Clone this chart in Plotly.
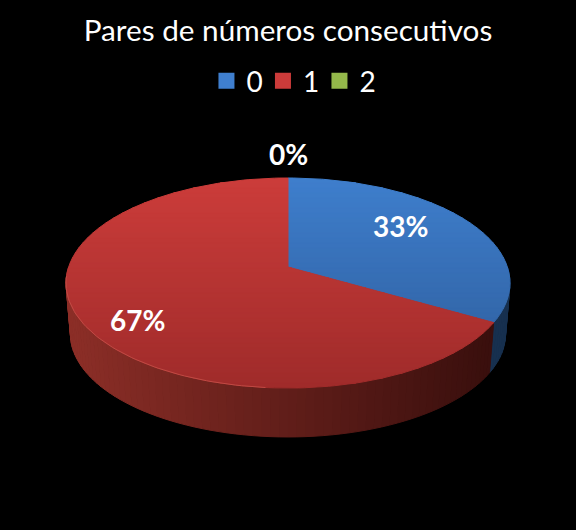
import numpy as np
import plotly.graph_objects as go

# DATA
categories = ["0", "1", "2"]
values = [1, 2, 0]
title_text = "Pares de números consecutivos"

# COLOURS (top of face, bottom of face, wall from left to right)
legend_colors = ["#3f7fcf", "#cc3b3a", "#94b84a"]
face_top = {"0": "#3e7ecc", "1": "#cb3c3a", "2": "#9bbb59"}
face_bottom = {"0": "#2d5c9a", "1": "#9f2b2a", "2": "#7a9a40"}
wall_light = {"0": "#1f4270", "1": "#8c2e27", "2": "#5f7a30"}
wall_dark = {"0": "#17304f", "1": "#3a0f0d", "2": "#3f5220"}

# PIE GEOMETRY (pixels, the axes run 1:1 with the page)
CX = 288
PERSP = 0.1524
TOP_CY, TOP_RX, TOP_RY = 267, 219.4, 102.6
BOT_CY, BOT_RX, BOT_RY = 318.4, 215.0, 100.5
N_BANDS = 42
LABEL_POS = [(400, 226), (137, 320), (288, 154)]


def project(theta, cy, rx, ry):
    u, v = np.sin(theta), np.cos(theta)
    d = 1 + PERSP * v
    return CX + rx * u / d, cy - ry * v / d


def mix(c1, c2, t):
    a = [int(c1[i:i + 2], 16) for i in (1, 3, 5)]
    b = [int(c2[i:i + 2], 16) for i in (1, 3, 5)]
    return "rgb(%d,%d,%d)" % tuple(round(p + (q - p) * t) for p, q in zip(a, b))


def clip_half(points, limit, keep_below):
    out = []
    for i in range(len(points)):
        x0, y0 = points[i]
        x1, y1 = points[(i + 1) % len(points)]
        in0 = y0 <= limit if keep_below else y0 >= limit
        in1 = y1 <= limit if keep_below else y1 >= limit
        if in0:
            out.append((x0, y0))
        if in0 != in1:
            t = (limit - y0) / (y1 - y0)
            out.append((x0 + (x1 - x0) * t, limit))
    return out


def add_poly(fig, points, color):
    xs = [p[0] for p in points] + [points[0][0]]
    ys = [p[1] for p in points] + [points[0][1]]
    fig.add_trace(go.Scatter(
        x=xs, y=ys, mode="lines", fill="toself", fillcolor=color,
        line=dict(color=color, width=1), showlegend=False, hoverinfo="skip"
    ))


fig = go.Figure()

# slice angles, clockwise from 12 o'clock
total = sum(values)
ends = np.cumsum(values) / total * 2 * np.pi
starts = np.concatenate([[0], ends[:-1]])

# walls first, the faces go over them
for name, a0, a1 in zip(categories, starts, ends):
    lo, hi = max(a0, np.pi / 2), min(a1, 3 * np.pi / 2)
    if hi <= lo:
        continue
    steps = max(int((hi - lo) / np.radians(2)), 1)
    edges = np.linspace(lo, hi, steps + 1)
    for t0, t1 in zip(edges[:-1], edges[1:]):
        x0, y0 = project(t0, TOP_CY, TOP_RX, TOP_RY)
        x1, y1 = project(t1, TOP_CY, TOP_RX, TOP_RY)
        x2, y2 = project(t1, BOT_CY, BOT_RX, BOT_RY)
        x3, y3 = project(t0, BOT_CY, BOT_RX, BOT_RY)
        # lit from the left
        shade = np.clip((x0 - 70) / 420, 0, 1)
        add_poly(fig, [(x0, y0), (x1, y1), (x2, y2), (x3, y3)],
                 mix(wall_light[name], wall_dark[name], shade))

# top faces, cut in horizontal bands for the gradient
bands = np.linspace(178, 388, N_BANDS + 1)
for name, a0, a1 in zip(categories, starts, ends):
    if a1 <= a0:
        continue
    angles = np.linspace(a0, a1, 180)
    outline = [(CX, float(TOP_CY))]
    outline += [tuple(map(float, project(t, TOP_CY, TOP_RX, TOP_RY))) for t in angles]
    for b0, b1 in zip(bands[:-1], bands[1:]):
        part = clip_half(clip_half(outline, b1, True), b0, False)
        if len(part) < 3:
            continue
        add_poly(fig, part, mix(face_top[name], face_bottom[name], (b0 - 178) / 210))

# light rim on the front left edge
rim = np.radians(np.linspace(185, 265, 60))
rim_x, rim_y = project(rim, TOP_CY, TOP_RX, TOP_RY)
fig.add_trace(go.Scatter(
    x=rim_x, y=rim_y, mode="lines", line=dict(color="#c04a44", width=1),
    showlegend=False, hoverinfo="skip"
))

# legend entries
for name, color in zip(categories, legend_colors):
    fig.add_trace(go.Scatter(
        x=[None], y=[None], mode="markers", name=name,
        marker=dict(symbol="square", size=16, color=color)
    ))

# data labels
annotations = []
for value, (lx, ly) in zip(values, LABEL_POS):
    annotations.append(dict(
        x=lx, y=ly, xref="x", yref="y", showarrow=False,
        text="<b>%d%%</b>" % round(100 * value / total),
        font=dict(family="Lato", size=28, color="white")
    ))

fig.update_layout(
    width=576,
    height=530,
    margin=dict(l=0, r=0, t=0, b=0),
    paper_bgcolor="black",
    plot_bgcolor="black",
    title=dict(
        text=title_text, x=0.5, xanchor="center", y=0.942, yanchor="middle",
        font=dict(family="Lato", size=29.7, color="white")
    ),
    legend=dict(
        orientation="h", x=0.506, xanchor="center", y=0.847, yanchor="middle",
        font=dict(family="Lato", size=28, color="white"),
        bgcolor="rgba(0,0,0,0)", itemwidth=30,
        entrywidth=11.5, entrywidthmode="pixels"
    ),
    xaxis=dict(range=[0, 576], visible=False, fixedrange=True),
    yaxis=dict(range=[530, 0], visible=False, fixedrange=True),
    annotations=annotations
)

# browser default body margin would push the chart off by 8px
fig.write_html(
    "out.html",
    config={"displayModeBar": False},
    post_script="document.body.style.margin='0';document.body.style.background='black';document.body.style.overflow='hidden';"
)
